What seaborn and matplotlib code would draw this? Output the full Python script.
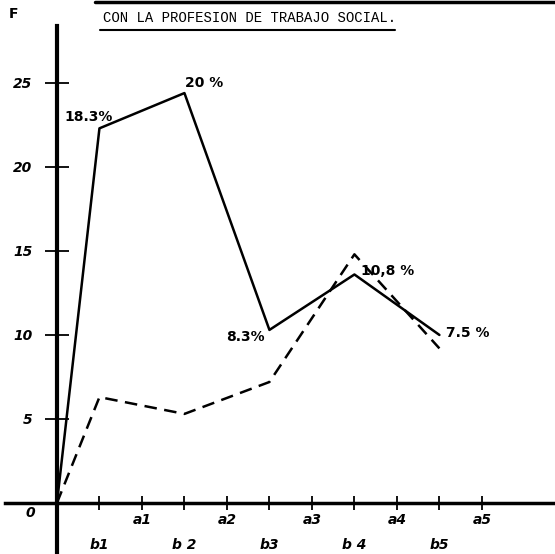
import numpy as np
import pandas as pd
import matplotlib
matplotlib.use("Agg")
import matplotlib.pyplot as plt
from matplotlib.lines import Line2D
import seaborn as sns

# values
x_points = [0, 1, 3, 5, 7, 9]              # origin, b1..b5
solid_vals = [0, 22.3, 24.4, 10.3, 13.6, 10.0]
dashed_vals = [0, 6.3, 5.3, 7.2, 14.8, 9.2]
pct_labels = ["18.3%", "20 %", "8.3%", "10,8 %", "7.5 %"]
pct_offsets = [(-11, 11), (20, 10), (-24, -7), (33, 3), (28, 2)]  # pixels
a_ticks = [2, 4, 6, 8, 10]
a_labels = ["a1", "a2", "a3", "a4", "a5"]
b_ticks = [1, 3, 5, 7, 9]
b_labels = ["b1", "b 2", "b3", "b 4", "b5"]
y_ticks = [5, 10, 15, 20, 25]

df = pd.DataFrame({
    "x": x_points * 2,
    "F": solid_vals + dashed_vals,
    "serie": ["solid"] * len(x_points) + ["dashed"] * len(x_points),
})

sns.set_style("white")
plt.rcParams["font.family"] = ["DejaVu Sans"]
plt.rcParams["text.color"] = "black"

fig = plt.figure(figsize=(5.55, 5.54), dpi=100)
ax = fig.add_axes([0, 0, 1, 1])

sns.lineplot(data=df, x="x", y="F", style="serie",
             dashes={"solid": "", "dashed": (5, 3)},
             color="black", linewidth=1.8, legend=False, ax=ax)

ax.set_xlim(-1.34, 11.72)
ax.set_ylim(-3.04, 29.94)

# axes crossing at the origin, like the hand drawing
for s in ["top", "right"]:
    ax.spines[s].set_visible(False)
ax.spines["left"].set_position(("data", 0))
ax.spines["bottom"].set_position(("data", 0))
ax.spines["left"].set_linewidth(3)
ax.spines["bottom"].set_linewidth(2.5)
ax.spines["left"].set_color("black")
ax.spines["bottom"].set_color("black")
ax.spines["left"].set_bounds(-3.04, 28.4)
ax.spines["bottom"].set_bounds(-1.22, 11.72)

tick_font = dict(fontsize=10, fontweight="bold", fontstyle="italic", color="black")
ax.set_yticks(y_ticks)
ax.set_yticklabels([str(v) for v in y_ticks], **tick_font)
ax.tick_params(axis="y", left=True, direction="inout", length=17, width=1.3,
               pad=9, color="black")

ax.set_xticks(a_ticks)
ax.set_xticklabels(a_labels, **tick_font)
ax.set_xticks(b_ticks, minor=True)
ax.set_xticklabels(b_labels, minor=True, **tick_font)
ax.tick_params(axis="x", which="both", bottom=True, direction="inout",
               length=10, width=1.3, color="black")
ax.tick_params(axis="x", which="major", pad=2)
ax.tick_params(axis="x", which="minor", pad=20)
ax.set_xlabel("")
ax.set_ylabel("")

for xv, yv, lab, off in zip(x_points[1:], solid_vals[1:], pct_labels, pct_offsets):
    ax.annotate(lab, (xv, yv), xytext=off, textcoords="offset pixels",
                ha="center", va="center", fontsize=10, fontweight="bold",
                color="black")

ax.text(-0.62, -0.2, "0", ha="center", va="top", **tick_font)
fig.text(14 / 555, 1 - 14 / 554, "F", ha="center", va="center",
         fontsize=10, fontweight="bold", color="black")

# typed caption at the top
fig.text(103 / 555, 1 - 18 / 554, "CON LA PROFESION DE TRABAJO SOCIAL.",
         ha="left", va="center", fontsize=10, family="Liberation Mono",
         color="black")
fig.lines.append(Line2D([100 / 555, 395 / 555], [1 - 30 / 554, 1 - 30 / 554],
                        transform=fig.transFigure, color="black", lw=1.5))
fig.lines.append(Line2D([95 / 555, 1], [1 - 1.5 / 554, 1 - 1.5 / 554],
                        transform=fig.transFigure, color="black", lw=2.5))

fig.savefig("out.png", dpi=100)
